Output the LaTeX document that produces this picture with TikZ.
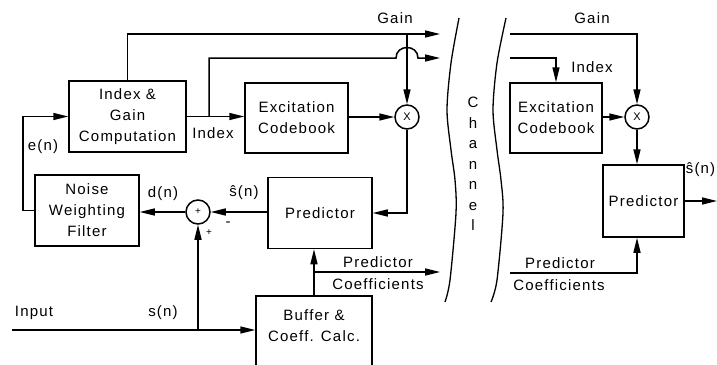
\documentclass[tikz,border=0pt]{standalone}
\usepackage{fontspec}
\setmainfont{Liberation Sans}[LetterSpace=8]
\usetikzlibrary{arrows.meta}
\begin{document}
\begin{tikzpicture}[x=1pt,y=-1pt, line width=1.5pt,
  box/.style={draw, rectangle, align=center, inner sep=0pt, font=\fontsize{15}{21}\selectfont},
  circ/.style={draw, circle, minimum size=24pt, inner sep=0pt, font=\fontsize{10}{10}\selectfont},
  lbl/.style={font=\fontsize{15}{21}\selectfont, inner sep=0pt, align=center},
  arr/.style={-{Triangle[length=15pt,width=7pt]}},
  chan/.style={line width=1.3pt}]
\useasboundingbox (0,0) rectangle (717,364);
% blocks
\node[box, minimum width=117pt, minimum height=71pt] (igc) at (127.5,116.5) {Index \&\\Gain\\Computation};
\node[box, minimum width=103pt, minimum height=70pt] (exc) at (296.5,118) {Excitation\\Codebook};
\node[box, minimum width=104pt, minimum height=71pt] (noise) at (87,210.5) {Noise\\Weighting\\Filter};
\node[box, minimum width=104pt, minimum height=71pt] (pred) at (320,213) {Predictor};
\node[box, minimum width=116pt, minimum height=90pt] (buf) at (314,341) {};
\node[lbl] (buftext) at (314,325.5) {Buffer \&\\Coeff. Calc.};
\node[circ] (sum) at (198,212) {+};
\node[circ, font=\fontsize{11}{11}\selectfont] (mult) at (407,117) {X};
\node[box, minimum width=92pt, minimum height=70pt] (rexc) at (556,118) {Excitation\\Codebook};
\node[circ, font=\fontsize{11}{11}\selectfont] (rmult) at (637,117) {X};
\node[box, minimum width=81pt, minimum height=72pt] (rpred) at (643.5,201) {Predictor};
% coordinates
\coordinate (ibr) at (209,116.5);
\coordinate (gainEnd) at (440,34);
\coordinate (idxEnd) at (440,58);
\coordinate (fbl) at (23,0);
\coordinate (in) at (12,330);
\coordinate (pcEnd) at (440,272);
\coordinate (rg) at (510,34);
\coordinate (ri) at (510,58);
\coordinate (out) at (717,201);
\coordinate (rpc) at (510,273);
% encoder connectors
\draw[arr] (igc.east) -- (igc.east -| exc.west);
\draw[arr] (igc.north) -- (igc.north |- gainEnd) -- (gainEnd);
\draw[arr] (ibr) -- (209,58) -- (396,58) .. controls (396,44) and (418,44) .. (418,58) -- (idxEnd);
\draw[arr] (mult.north |- gainEnd) -- (mult.north);
\draw[arr] (mult.west -| exc.east) -- (mult.west);
\draw[arr] (mult.south) -- (mult.south |- pred.east) -- (pred.east);
\draw[arr] (sum.east -| pred.west) -- (sum.east);
\draw[arr] (sum.west) -- (sum.west -| noise.east);
\draw[arr] (noise.west) -- (noise.west -| fbl) -- (igc.west -| fbl) -- (igc.west);
\draw[arr] (in) -- (in -| buf.west);
\draw[arr] (in -| sum.south) -- (sum.south);
\draw[arr] (buf.north) -- (buf.north |- pred.south);
\draw[arr] (buf.north |- pcEnd) -- (pcEnd);
% decoder connectors
\draw[arr] (rg) -- (rg -| rmult.north) -- (rmult.north);
\draw[arr] (ri) -- (ri -| rexc.north) -- (rexc.north);
\draw[arr] (rmult.west -| rexc.east) -- (rmult.west);
\draw[arr] (rmult.south) -- (rmult.south |- rpred.north);
\draw[arr] (rpred.east) -- (out);
\draw[arr] (rpc) -- (rpc -| rmult.south) -- (rmult.south |- rpred.south);
% channel
\draw[chan] plot[smooth] coordinates {(459,18) (451,63) (447,110) (451,150) (455,180) (456,213) (450,280) (445,302)};
\draw[chan] plot[smooth] coordinates {(506,18) (497,63) (493,110) (497,150) (501,180) (503,213) (497,280) (491,302)};
\node[lbl, font=\fontsize{15}{20.5}\selectfont] (chlabel) at (473,164) {C\\h\\a\\n\\n\\e\\l};
% labels
\node[lbl] (lgain) at (395,18) {Gain};
\node[lbl] (rgain) at (592,18) {Gain};
\node[lbl] (lidx) at (213,133) {Index};
\node[lbl] (ridx) at (592,67) {Index};
\node[lbl] (en) at (43,147) {e(n)};
\node[lbl] (dn) at (163,194) {d(n)};
\node[lbl] (shl) at (244,193) {ŝ(n)};
\node[lbl] (minus) at (228,224) {-};
\node[lbl, font=\fontsize{10}{10}\selectfont] (plus) at (209,233) {+};
\node[lbl] (input) at (34,313) {Input};
\node[lbl] (sn) at (163,313) {s(n)};
\node[lbl] (lpc1) at (378,262) {Predictor};
\node[lbl] (lpc2) at (378,284) {Coefficients};
\node[lbl] (rpc1) at (560,263) {Predictor};
\node[lbl] (rpc2) at (559,285) {Coefficients};
\node[lbl, anchor=east] (shr) at (716,170) {ŝ(n)};
\end{tikzpicture}
\end{document}
